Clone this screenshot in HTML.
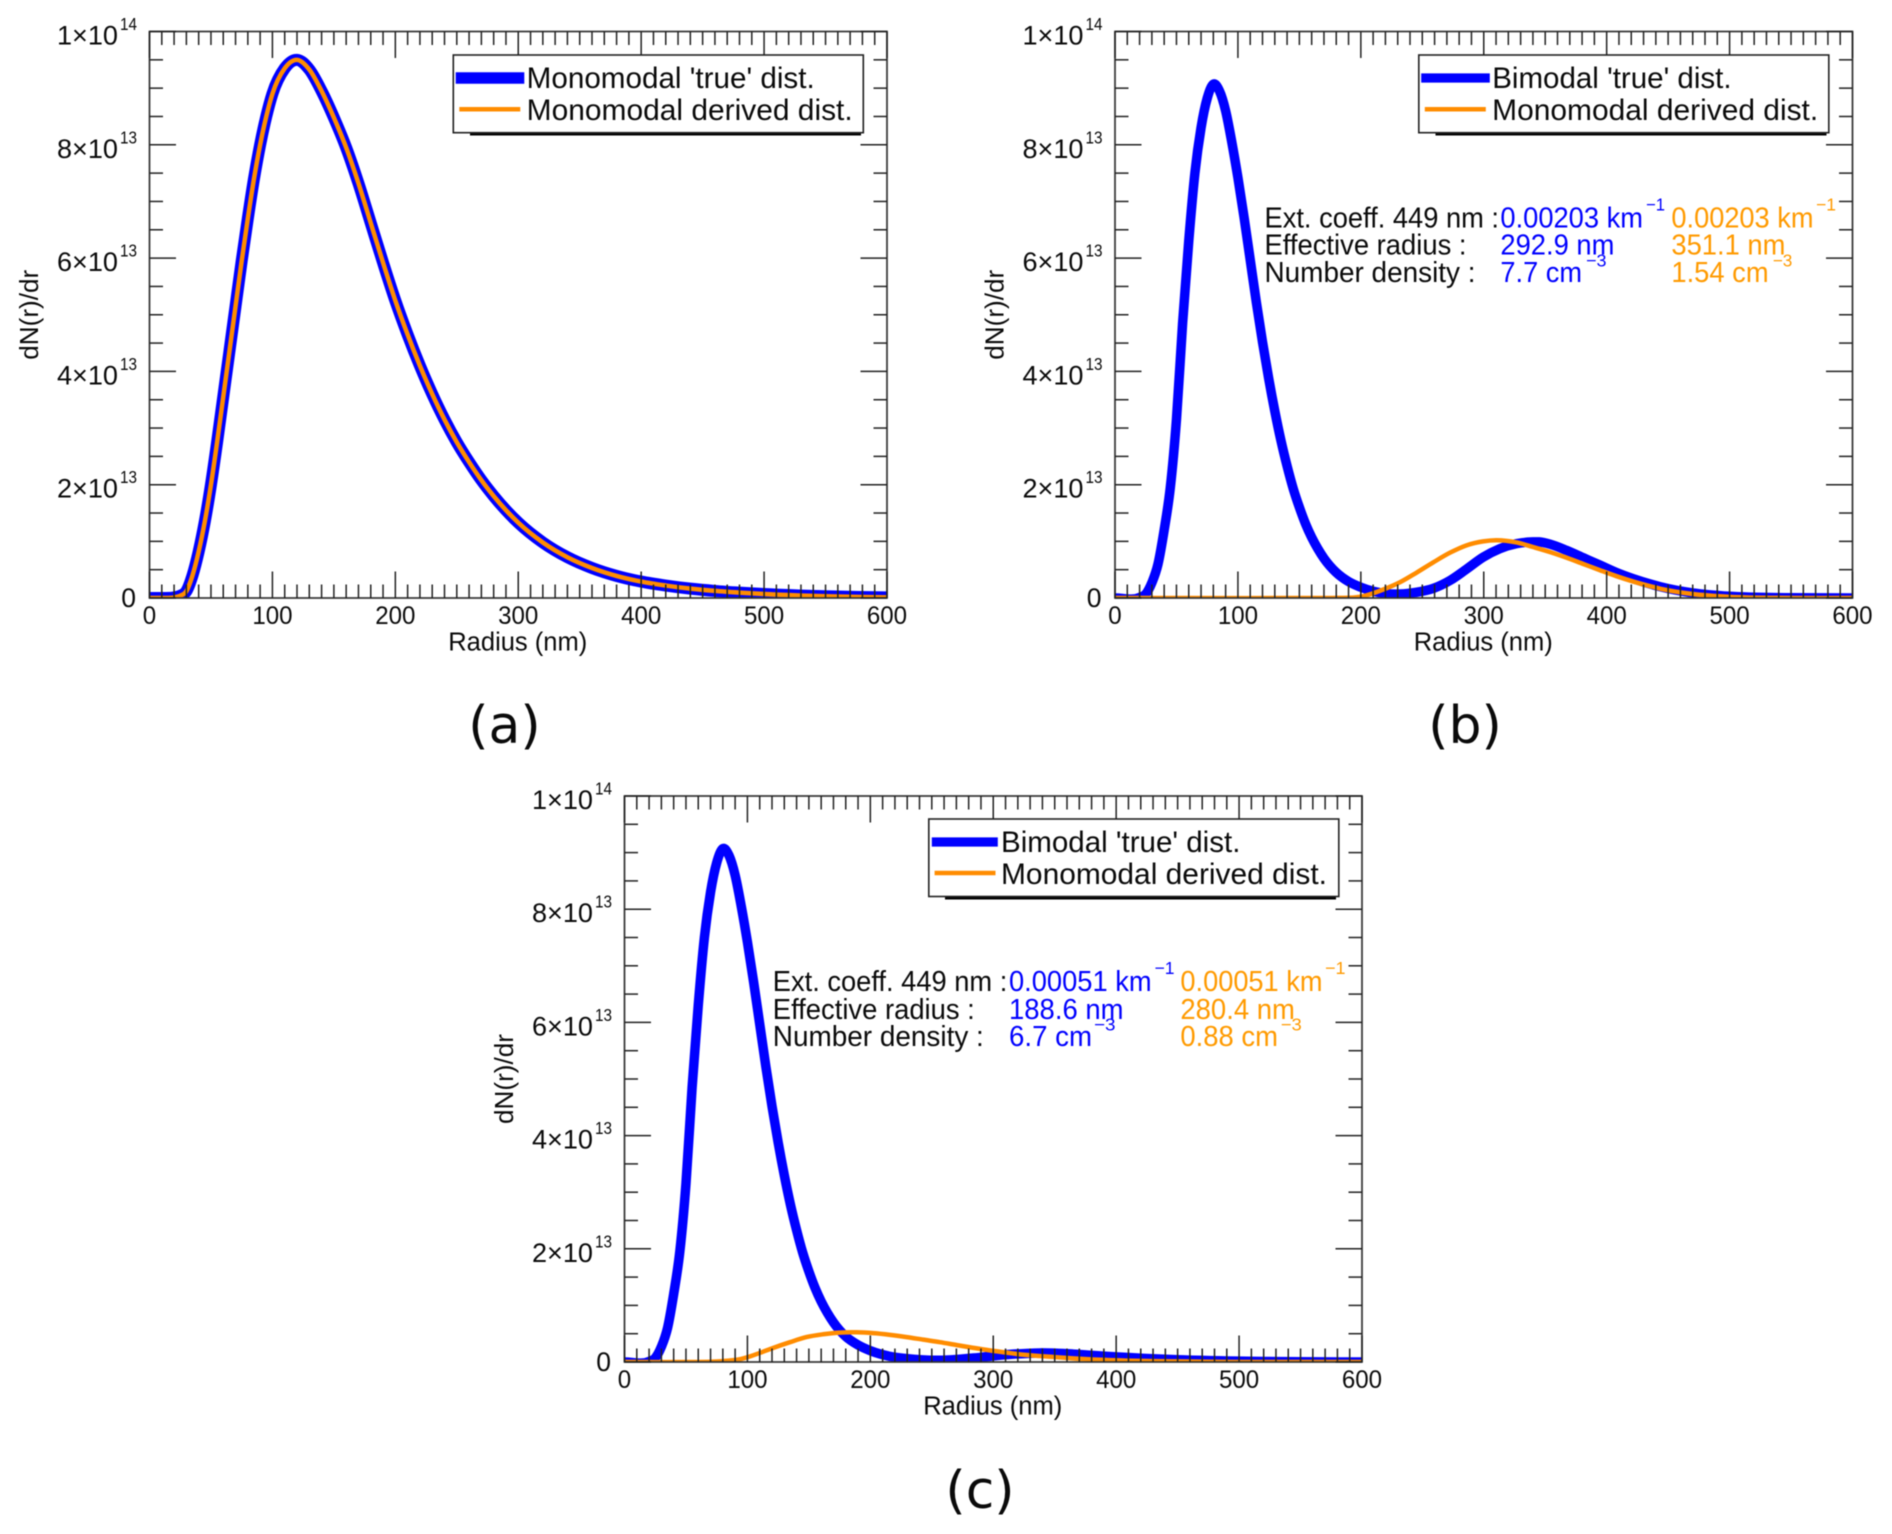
<!DOCTYPE html>
<html lang="en">
<head>
<meta charset="utf-8">
<title>Size distribution panels</title>
<style>
html,body{margin:0;padding:0;background:#fff;width:1892px;height:1534px;overflow:hidden}
svg{display:block;filter:blur(0.55px)}
text{font-family:"Liberation Sans",Arial,sans-serif;fill:#0a0a0a}
.lg{font-size:29.5px}
.an{font-size:28.5px}
.ex{font-size:17.5px}
.bl{fill:#0000ff}
.or{fill:#ff9a00}
.cap{font-family:"DejaVu Sans",sans-serif;font-size:52px;text-anchor:middle}
.xt{font-size:25px}
.yt{font-size:26.5px}
</style>
</head>
<body>
<svg id="figure" xmlns="http://www.w3.org/2000/svg" width="1892" height="1534" viewBox="0 0 1892 1534">
<rect width="1892" height="1534" fill="#fff"/>
<defs>
<clipPath id="clip-a"><rect x="149.5" y="31.5" width="737.5" height="566.5"/></clipPath>
<clipPath id="clip-b"><rect x="1115" y="31.5" width="737.5" height="566.5"/></clipPath>
<clipPath id="clip-c"><rect x="624.5" y="796" width="737.5" height="566"/></clipPath>
</defs>

<g id="panel-a">
  <g id="curves-a" clip-path="url(#clip-a)"></g>
  <g id="axes-a"></g>
  <g>
    <rect x="470" y="132" width="391" height="3.5" fill="#000"/>
    <rect x="453.3" y="55" width="410" height="77.7" fill="#fff" stroke="#222" stroke-width="1.6"/>
    <line x1="455.7" x2="524.3" y1="78" y2="78" stroke="#0000ff" stroke-width="11.5"/>
    <line x1="459.3" x2="520.3" y1="109.3" y2="109.3" stroke="#ff8c00" stroke-width="4.5"/>
    <text class="lg" x="526.7" y="88" textLength="288" lengthAdjust="spacingAndGlyphs">Monomodal 'true' dist.</text>
    <text class="lg" x="526.7" y="120" textLength="326" lengthAdjust="spacingAndGlyphs">Monomodal derived dist.</text>
  </g>
  <text class="cap" x="504.5" y="743">(a)</text>
</g>

<g id="panel-b">
  <g id="curves-b" clip-path="url(#clip-b)"></g>
  <g id="axes-b"></g>
  <g>
    <rect x="1435.5" y="132" width="391" height="3.5" fill="#000"/>
    <rect x="1418.8" y="55" width="410" height="77.7" fill="#fff" stroke="#222" stroke-width="1.6"/>
    <line x1="1421.2" x2="1489.8" y1="78" y2="78" stroke="#0000ff" stroke-width="9.3"/>
    <line x1="1424.8" x2="1485.8" y1="109.3" y2="109.3" stroke="#ff8c00" stroke-width="4.5"/>
    <text class="lg" x="1492.2" y="88" textLength="239.4" lengthAdjust="spacingAndGlyphs">Bimodal 'true' dist.</text>
    <text class="lg" x="1492.2" y="120" textLength="326" lengthAdjust="spacingAndGlyphs">Monomodal derived dist.</text>
  </g>
  <g>
    <text class="an" x="1264.5" y="227.5" textLength="234.5" lengthAdjust="spacingAndGlyphs">Ext. coeff. 449 nm :</text>
    <text class="an" x="1264.5" y="254.5" textLength="202" lengthAdjust="spacingAndGlyphs">Effective radius :</text>
    <text class="an" x="1264.5" y="282.2" textLength="211" lengthAdjust="spacingAndGlyphs">Number density :</text>
    <text class="an bl" x="1500.4" y="227.5" textLength="142.6" lengthAdjust="spacingAndGlyphs">0.00203 km</text>
    <text class="ex bl" x="1646" y="210.7" textLength="19" lengthAdjust="spacingAndGlyphs">−1</text>
    <text class="an or" x="1671.4" y="227.5" textLength="142.1" lengthAdjust="spacingAndGlyphs">0.00203 km</text>
    <text class="ex or" x="1816" y="210.7" textLength="20" lengthAdjust="spacingAndGlyphs">−1</text>
    <text class="an bl" x="1500.4" y="254.5" textLength="114" lengthAdjust="spacingAndGlyphs">292.9 nm</text>
    <text class="an or" x="1671.4" y="254.5" textLength="114" lengthAdjust="spacingAndGlyphs">351.1 nm</text>
    <text class="an bl" x="1500.4" y="282.2" textLength="81.6" lengthAdjust="spacingAndGlyphs">7.7 cm</text>
    <text class="ex bl" x="1586" y="266.7" textLength="20.5" lengthAdjust="spacingAndGlyphs">−3</text>
    <text class="an or" x="1671.4" y="282.2" textLength="97.2" lengthAdjust="spacingAndGlyphs">1.54 cm</text>
    <text class="ex or" x="1772.7" y="266.7" textLength="19.6" lengthAdjust="spacingAndGlyphs">−3</text>
  </g>
  <text class="cap" x="1465" y="743">(b)</text>
</g>

<g id="panel-c">
  <g id="curves-c" clip-path="url(#clip-c)"></g>
  <g id="axes-c"></g>
  <g>
    <rect x="945" y="896" width="391" height="3.5" fill="#000"/>
    <rect x="928.8" y="819" width="410" height="77.5" fill="#fff" stroke="#222" stroke-width="1.6"/>
    <line x1="931.8" x2="997.8" y1="842" y2="842" stroke="#0000ff" stroke-width="9.3"/>
    <line x1="934.6" x2="995.5" y1="873" y2="873" stroke="#ff8c00" stroke-width="4.5"/>
    <text class="lg" x="1001" y="852" textLength="239.4" lengthAdjust="spacingAndGlyphs">Bimodal 'true' dist.</text>
    <text class="lg" x="1001" y="884" textLength="326" lengthAdjust="spacingAndGlyphs">Monomodal derived dist.</text>
  </g>
  <g>
    <text class="an" x="772.8" y="991" textLength="234.5" lengthAdjust="spacingAndGlyphs">Ext. coeff. 449 nm :</text>
    <text class="an" x="772.8" y="1018.8" textLength="202" lengthAdjust="spacingAndGlyphs">Effective radius :</text>
    <text class="an" x="772.8" y="1046.2" textLength="211" lengthAdjust="spacingAndGlyphs">Number density :</text>
    <text class="an bl" x="1009" y="991" textLength="142.6" lengthAdjust="spacingAndGlyphs">0.00051 km</text>
    <text class="ex bl" x="1154.5" y="974" textLength="20" lengthAdjust="spacingAndGlyphs">−1</text>
    <text class="an or" x="1180.4" y="991" textLength="142.1" lengthAdjust="spacingAndGlyphs">0.00051 km</text>
    <text class="ex or" x="1325" y="974" textLength="20.5" lengthAdjust="spacingAndGlyphs">−1</text>
    <text class="an bl" x="1009" y="1018.8" textLength="114.5" lengthAdjust="spacingAndGlyphs">188.6 nm</text>
    <text class="an or" x="1180.4" y="1018.8" textLength="114.5" lengthAdjust="spacingAndGlyphs">280.4 nm</text>
    <text class="an bl" x="1009" y="1046.2" textLength="83" lengthAdjust="spacingAndGlyphs">6.7 cm</text>
    <text class="ex bl" x="1094" y="1030.5" textLength="21.5" lengthAdjust="spacingAndGlyphs">−3</text>
    <text class="an or" x="1180.4" y="1046.2" textLength="97.6" lengthAdjust="spacingAndGlyphs">0.88 cm</text>
    <text class="ex or" x="1280.8" y="1030.5" textLength="21" lengthAdjust="spacingAndGlyphs">−3</text>
  </g>
  <text class="cap" x="980" y="1508">(c)</text>
</g>
</svg>

<script>
// Axis tick values and labels
const xMajorTicks = [0, 100, 200, 300, 400, 500, 600];
const xMinorTicks = [10,20,30,40,50,60,70,80,90,110,120,130,140,150,160,170,180,190,210,220,230,240,250,260,270,280,290,310,320,330,340,350,360,370,380,390,410,420,430,440,450,460,470,480,490,510,520,530,540,550,560,570,580,590];
const yMajorTicks = [0, 2, 4, 6, 8, 10];
const yMinorTicks = [0.5,1,1.5,2.5,3,3.5,4.5,5,5.5,6.5,7,7.5,8.5,9,9.5];
const yTickMantissa = ['0', '2×10', '4×10', '6×10', '8×10', '1×10'];
const yTickExponent = ['', '13', '13', '13', '13', '14'];
const xLabel = 'Radius (nm)';
const yLabel = 'dN(r)/dr';

// Panel (a), radius in nm and dN/dr in units of 1e13
const radiusA = [0,10,20,25,30,35,40,45,50,55,60,65,70,75,80,85,90,95,100,110,120,130,140,150,160,170,180,190,200,210,220,230,240,250,260,270,280,290,300,320,340,360,380,400,420,440,460,480,500,550,600];
const trueA = [0,0,0.01,0.04,0.12,0.4,0.82,1.35,2.0,2.75,3.55,4.35,5.15,5.95,6.7,7.4,8.0,8.5,8.9,9.35,9.5,9.33,8.95,8.48,7.95,7.32,6.62,5.92,5.25,4.65,4.1,3.6,3.15,2.75,2.4,2.08,1.8,1.55,1.33,0.98,0.72,0.53,0.39,0.29,0.22,0.165,0.125,0.095,0.07,0.03,0.01];
const derivedA = [0,0,0.01,0.04,0.12,0.4,0.82,1.35,2.0,2.75,3.55,4.35,5.15,5.95,6.7,7.4,8.0,8.5,8.9,9.35,9.5,9.33,8.95,8.48,7.95,7.32,6.62,5.92,5.25,4.65,4.1,3.6,3.15,2.75,2.4,2.08,1.8,1.55,1.33,0.98,0.72,0.53,0.39,0.29,0.22,0.165,0.125,0.095,0.07,0.03,0.01];

// Panel (b)
const radiusTrueB = [0,20,25,30,35,40,45,50,55,60,65,70,75,80,85,90,95,100,105,110,115,120,125,130,135,140,145,150,155,160,165,170,180,190,200,210,220,232,245,259,272.6,286,299.5,313,326.8,340,345,354,367.5,381,394.6,408,421.7,435,443.5,470,500,550,600];
const trueB = [0,0.01,0.07,0.27,0.6,1.2,1.95,3.15,4.85,6.3,7.5,8.3,8.82,9.07,8.95,8.6,8.05,7.42,6.72,5.97,5.22,4.52,3.88,3.3,2.78,2.33,1.93,1.6,1.31,1.07,0.87,0.7,0.45,0.29,0.19,0.12,0.08,0.07,0.1,0.17,0.31,0.51,0.72,0.87,0.96,0.99,0.99,0.95,0.84,0.71,0.58,0.45,0.34,0.25,0.2,0.09,0.03,0.005,0];
const radiusDerivedB = [0,150,180,199,205,218.3,232,245.5,259,272.6,286,299.5,310,326.8,340,354,367.5,381,394.6,408,421.7,435,443.5,470,500,550,600];
const derivedB = [0,0,0.002,0.02,0.05,0.15,0.28,0.45,0.63,0.8,0.93,1.0,1.02,0.98,0.9,0.81,0.71,0.6,0.49,0.385,0.29,0.21,0.165,0.07,0.02,0,0];

// Panel (c)
const radiusTrueC = [0,20,25,30,35,40,45,50,55,60,65,70,75,80,85,90,95,100,105,110,115,120,125,130,135,140,145,150,155,160,165,170,180,190,200,216,229.6,256.7,283.8,311,338,365,379,400,450,500,600];
const trueC = [0,0.01,0.07,0.27,0.6,1.2,1.95,3.15,4.85,6.3,7.5,8.3,8.82,9.07,8.95,8.6,8.05,7.42,6.72,5.97,5.22,4.52,3.88,3.3,2.78,2.33,1.93,1.6,1.31,1.07,0.87,0.7,0.45,0.3,0.2,0.1,0.06,0.03,0.07,0.13,0.16,0.14,0.12,0.09,0.04,0.015,0];
const radiusDerivedC = [0,50,70,85,94,99.4,110,121.1,134.6,148,161.6,175,188.9,202.4,216,229.6,243,256.7,270,283.8,297,311,324,338,351.5,365,387,450,500,600];
const derivedC = [0,0,0.005,0.025,0.05,0.08,0.16,0.25,0.35,0.44,0.49,0.52,0.525,0.51,0.48,0.44,0.395,0.35,0.3,0.25,0.205,0.165,0.13,0.105,0.085,0.065,0.04,0.01,0,0];

const XMAX = 600, YMAX = 10, PW = 737.5;
const NS = 'http://www.w3.org/2000/svg';

function xAxis(frame, r) { return frame.left + (r / XMAX) * PW; }
function yAxis(frame, v) { return frame.top + (1 - v / YMAX) * frame.h; }

function make(parent, tag, cls, txt) {
  const el = document.createElementNS(NS, tag);
  if (cls) el.setAttribute('class', cls);
  if (txt !== undefined) el.textContent = txt;
  parent.appendChild(el);
  return el;
}

function pathFrom(frame, rs, vs) {
  const px = rs.map(function (r) { return xAxis(frame, r); });
  const py = vs.map(function (v) { return yAxis(frame, v); });
  const n = px.length, d = [], m = [];
  for (let i = 0; i < n - 1; i++) d.push((py[i + 1] - py[i]) / (px[i + 1] - px[i]));
  m.push(d[0]);
  for (let i = 1; i < n - 1; i++) {
    const h0 = px[i] - px[i - 1], h1 = px[i + 1] - px[i];
    m.push((d[i - 1] * h1 + d[i] * h0) / (h0 + h1));
  }
  m.push(d[n - 2]);
  let s = 'M' + px[0].toFixed(2) + ' ' + py[0].toFixed(2);
  for (let i = 0; i < n - 1; i++) {
    const h = (px[i + 1] - px[i]) / 3;
    s += 'C' + (px[i] + h).toFixed(2) + ' ' + (py[i] + m[i] * h).toFixed(2) + ' ' +
         (px[i + 1] - h).toFixed(2) + ' ' + (py[i + 1] - m[i + 1] * h).toFixed(2) + ' ' +
         px[i + 1].toFixed(2) + ' ' + py[i + 1].toFixed(2);
  }
  return s;
}

function drawCurve(id, frame, rs, vs, color, width, name) {
  const p = make(document.getElementById(id), 'path');
  p.setAttribute('d', pathFrom(frame, rs, vs));
  p.setAttribute('fill', 'none');
  p.setAttribute('stroke', color);
  p.setAttribute('stroke-width', width);
  p.setAttribute('stroke-linejoin', 'round');
  
  
}

function tick(g, x1, y1, x2, y2) {
  const l = make(g, 'line');
  l.setAttribute('x1', x1);
  l.setAttribute('y1', y1);
  l.setAttribute('x2', x2);
  l.setAttribute('y2', y2);
  l.setAttribute('stroke', '#222');
  l.setAttribute('stroke-width', '1.5');
  
  
}

function drawAxes(id, frame) {
  const g = document.getElementById(id);
  const top = frame.top, bottom = frame.top + frame.h, left = frame.left, right = frame.left + PW;
  const box = make(g, 'rect');
  box.setAttribute('x', left);
  box.setAttribute('y', top);
  box.setAttribute('width', PW);
  box.setAttribute('height', frame.h);
  box.setAttribute('fill', 'none');
  box.setAttribute('stroke', '#333');
  box.setAttribute('stroke-width', '1.7');
  
  

  xMinorTicks.forEach(function (r) {
    const x = xAxis(frame, r);
    tick(g, x, top, x, top + 13.5);
    tick(g, x, bottom, x, bottom - 13.5);
  });
  xMajorTicks.forEach(function (r, i) {
    const x = xAxis(frame, r);
    tick(g, x, top, x, top + 26.5);
    tick(g, x, bottom, x, bottom - 26.5);
    const s = String(r);
    const t = make(g, 'text', 'xt', s);
    t.setAttribute('x', x);
    t.setAttribute('y', bottom + 26);
    t.setAttribute('text-anchor', 'middle');
    t.setAttribute('textLength', s.length * 13.4);
    t.setAttribute('lengthAdjust', 'spacingAndGlyphs');
    
    
  });
  yMinorTicks.forEach(function (v) {
    const y = yAxis(frame, v);
    tick(g, left, y, left + 13.5, y);
    tick(g, right, y, right - 13.5, y);
  });
  yMajorTicks.forEach(function (v, i) {
    const y = yAxis(frame, v);
    tick(g, left, y, left + 26.5, y);
    tick(g, right, y, right - 26.5, y);
    const t = make(g, 'text', 'yt', yTickMantissa[i]);
    const hasExp = yTickExponent[i] !== '';
    t.setAttribute('x', hasExp ? left - 31.5 : left - 13.5);
    t.setAttribute('y', hasExp ? y + 13 : y + 9);
    t.setAttribute('text-anchor', 'end');
    if (hasExp) t.setAttribute('textLength', '61');
    if (hasExp) t.setAttribute('lengthAdjust', 'spacingAndGlyphs');
    
    
    if (hasExp) {
      const e = make(g, 'text', 'ex', yTickExponent[i]);
      e.setAttribute('x', left - 29.5);
      e.setAttribute('y', y - 1.5);
      e.setAttribute('textLength', '17');
      e.setAttribute('lengthAdjust', 'spacingAndGlyphs');
      
      
    }
  });
  const xt = make(g, 'text', '', xLabel);
  xt.setAttribute('x', left + PW / 2 - 0.5);
  xt.setAttribute('y', bottom + 52.5);
  xt.setAttribute('text-anchor', 'middle');
  xt.setAttribute('font-size', '25.5');
  xt.setAttribute('textLength', '139');
  xt.setAttribute('lengthAdjust', 'spacingAndGlyphs');
  
  

  const yt = make(g, 'text', '', yLabel);
  const yx = left - 111.5, yy = top + frame.h / 2;
  yt.setAttribute('transform', 'translate(' + yx + ' ' + yy + ') rotate(-90)');
  yt.setAttribute('text-anchor', 'middle');
  yt.setAttribute('font-size', '26');
  yt.setAttribute('textLength', '90');
  yt.setAttribute('lengthAdjust', 'spacingAndGlyphs');
  
  
}

const frameA = { left: 149.5, top: 31.5, h: 566.5 };
const frameB = { left: 1115, top: 31.5, h: 566.5 };
const frameC = { left: 624.5, top: 796, h: 566 };

drawCurve('curves-a', frameA, radiusA, trueA, '#0000ff', 12, 'true-distribution-curve-a');
drawCurve('curves-a', frameA, radiusA, derivedA, '#ff8c00', 4.5, 'derived-distribution-curve-a');
drawCurve('curves-b', frameB, radiusTrueB, trueB, '#0000ff', 9.5, 'true-distribution-curve-b');
drawCurve('curves-b', frameB, radiusDerivedB, derivedB, '#ff8c00', 4.5, 'derived-distribution-curve-b');
drawCurve('curves-c', frameC, radiusTrueC, trueC, '#0000ff', 9.5, 'true-distribution-curve-c');
drawCurve('curves-c', frameC, radiusDerivedC, derivedC, '#ff8c00', 4.5, 'derived-distribution-curve-c');

drawAxes('axes-a', frameA);
drawAxes('axes-b', frameB);
drawAxes('axes-c', frameC);
</script>
</body>
</html>
